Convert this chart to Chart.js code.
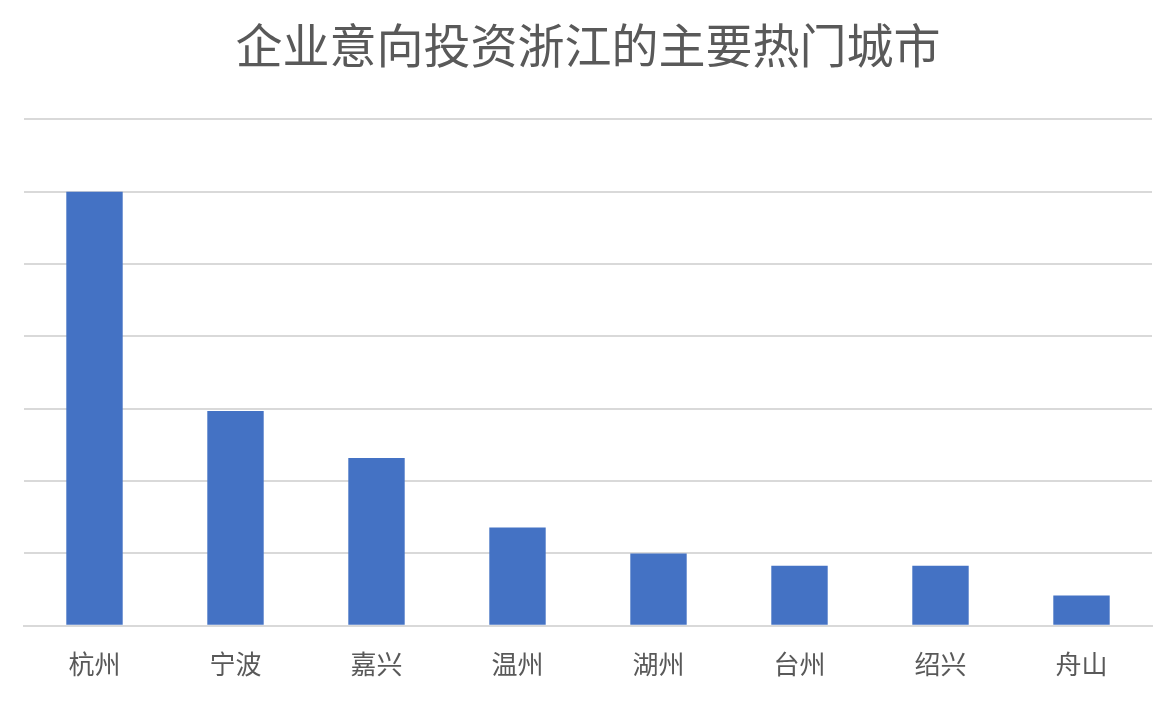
<!DOCTYPE html>
<html>
<head>
<meta charset="utf-8">
<script src="https://cdn.jsdelivr.net/npm/chart.js@4/dist/chart.umd.min.js"></script>
<style>
  html, body { margin: 0; padding: 0; background: #fff; }
  #wrap { width: 1168px; height: 701px; }
</style>
</head>
<body>
<div id="wrap"><canvas id="c"></canvas></div>
<script>
// ----- data -----
const cities = ['杭州', '宁波', '嘉兴', '温州', '湖州', '台州', '绍兴', '舟山']
const values = [6, 2.97, 2.32, 1.36, 1.0, 0.83, 0.83, 0.42]
const yMax = 7

const textColor = '#595959'
const fontFamily = '"Noto Sans CJK SC", "Noto Sans", sans-serif'

new Chart(document.getElementById('c'), {
  type: 'bar',
  data: {
    labels: cities,
    datasets: [{
      data: values,
      backgroundColor: '#4472c4',
      categoryPercentage: 1,
      barPercentage: 0.4,
    }],
  },
  options: {
    responsive: true,
    maintainAspectRatio: false,
    animation: false,
    layout: { padding: { left: 24, right: 16, top: 0, bottom: 6 } },
    plugins: {
      legend: { display: false },
      tooltip: { enabled: false },
      title: {
        display: true,
        text: '企业意向投资浙江的主要热门城市',
        color: textColor,
        font: { family: fontFamily, size: 47, weight: 'normal' },
        padding: { top: 17, bottom: 46 },
      },
    },
    scales: {
      x: {
        grid: { display: false },
        border: { color: '#d9d9d9', width: 2 },
        ticks: { color: textColor, font: { family: fontFamily, size: 26 }, padding: 15 },
      },
      y: {
        min: 0,
        max: yMax,
        ticks: { display: false, stepSize: 1 },
        border: { display: false },
        grid: { color: '#d9d9d9', lineWidth: 2, drawTicks: false },
      },
    },
  },
})
</script>
</body>
</html>
